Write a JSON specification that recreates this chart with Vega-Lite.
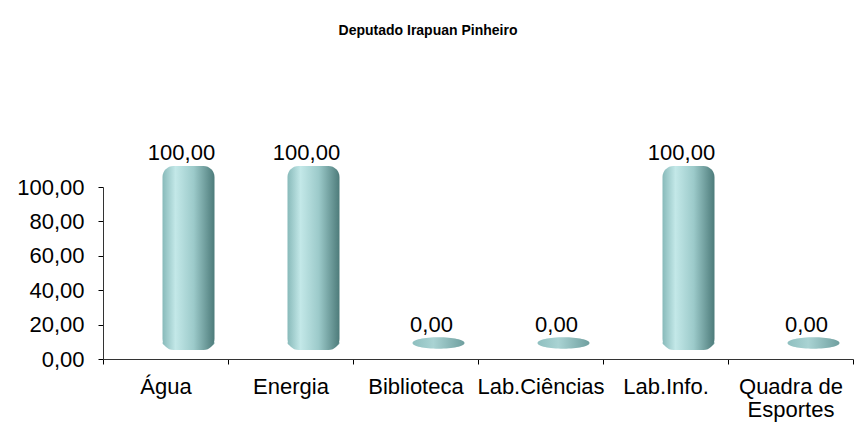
{
  "$schema": "https://vega.github.io/schema/vega-lite/v6.json",
  "autosize": "none",
  "width": 750,
  "height": 172,
  "padding": {"left": 103, "top": 187, "right": 1, "bottom": 66},
  "background": "white",
  "title": {
    "text": "Deputado Irapuan Pinheiro",
    "font": "Liberation Sans",
    "fontSize": 14,
    "fontWeight": "bold",
    "color": "black",
    "anchor": "middle",
    "frame": "group",
    "dx": -50,
    "offset": 104
  },
  "data": {
    "values": [
      {"categoria": "Água", "valor": 100},
      {"categoria": "Energia", "valor": 100},
      {"categoria": "Biblioteca", "valor": 0},
      {"categoria": "Lab.Ciências", "valor": 0},
      {"categoria": "Lab.Info.", "valor": 100},
      {"categoria": "Quadra de Esportes", "valor": 0}
    ]
  },
  "encoding": {
    "x": {
      "field": "categoria",
      "type": "nominal",
      "sort": null,
      "scale": {"paddingInner": 0, "paddingOuter": 0},
      "axis": {
        "title": null,
        "labelAngle": 0,
        "tickBand": "extent",
        "labelFont": "Liberation Sans",
        "labelFontSize": 22,
        "labelColor": "black",
        "labelPadding": 12,
        "labelOverlap": false,
        "tickSize": 5,
        "tickColor": "black",
        "domainColor": "#333333",
        "labelExpr": "datum.label == 'Quadra de Esportes' ? ['Quadra de', 'Esportes'] : datum.label",
        "labelLineHeight": 23
      }
    },
    "y": {
      "field": "valor",
      "type": "quantitative",
      "scale": {"domain": [0, 100]},
      "axis": {
        "title": null,
        "values": [0, 20, 40, 60, 80, 100],
        "grid": false,
        "labelOverlap": false,
        "labelBound": false,
        "labelExpr": "replace(format(datum.value, '.2f'), '.', ',')",
        "labelFont": "Liberation Sans",
        "labelFontSize": 22,
        "labelColor": "black",
        "labelPadding": 14,
        "tickSize": 5,
        "tickColor": "black",
        "domainColor": "#333333"
      }
    }
  },
  "layer": [
    {
      "mark": {
        "type": "point",
        "shape": "M-1,0A1,0.22 0 1,0 1,0A1,0.22 0 1,0 -1,0Z",
        "size": 2704,
        "filled": true,
        "opacity": 1,
        "xOffset": 23,
        "yOffset": -16,
        "fill": {
          "x1": 0, "y1": 0, "x2": 1, "y2": 0, "gradient": "linear",
          "stops": [
            {"offset": 0, "color": "#8ebfbf"},
            {"offset": 0.4, "color": "#a9d3d3"},
            {"offset": 1, "color": "#6f9f9f"}
          ]
        }
      },
      "encoding": {
        "y": {"datum": 0, "type": "quantitative"}
      }
    },
    {
      "transform": [{"filter": "datum.valor > 0"}],
      "mark": {
        "type": "bar",
        "size": 52,
        "xOffset": 23,
        "yOffset": -21,
        "y2Offset": -9,
        "cornerRadius": 11,
        "fill": {
          "x1": 0, "y1": 0, "x2": 1, "y2": 0, "gradient": "linear",
          "stops": [
            {"offset": 0, "color": "#88baba"},
            {"offset": 0.25, "color": "#c3e8e8"},
            {"offset": 0.6, "color": "#9ccaca"},
            {"offset": 1, "color": "#4d7b7a"}
          ]
        }
      },
      "encoding": {
        "y2": {"datum": 0}
      }
    },
    {
      "mark": {
        "type": "text",
        "font": "Liberation Sans",
        "fontSize": 22,
        "color": "black",
        "xOffset": 16,
        "dy": -27,
        "baseline": "alphabetic",
        "align": "center",
        "clip": false
      },
      "encoding": {
        "text": {"field": "valor", "type": "quantitative", "format": ".2f", "formatType": "number"}
      }
    }
  ],
  "config": {
    "view": {"stroke": null},
    "axisY": {"labelOverlap": false},
    "locale": {"number": {"decimal": ",", "thousands": ".", "grouping": [3], "currency": ["R$", ""]}}
  }
}
